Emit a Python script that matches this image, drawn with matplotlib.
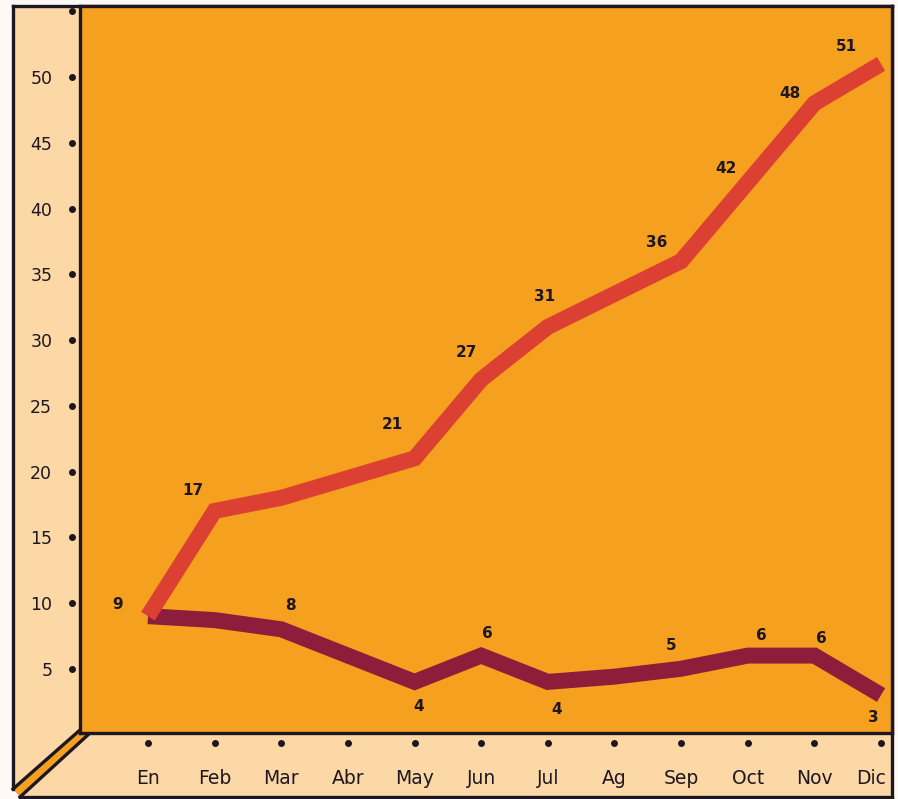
import matplotlib.pyplot as plt
from matplotlib.patches import Polygon
from matplotlib.transforms import blended_transform_factory, ScaledTranslation

meses = ['En', 'Feb', 'Mar', 'Abr', 'May', 'Jun', 'Jul', 'Ag', 'Sep', 'Oct', 'Nov', 'Dic']
serie_alta = [9, 17, 18, 19.5, 21, 27, 31, 33.5, 36, 42, 48, 51]
serie_baja = [9, 8.7, 8, 6, 4, 6, 4, 4.4, 5, 6, 6, 3]
ticks_y = [5, 10, 15, 20, 25, 30, 35, 40, 45, 50]

# which points carry a value label, and where the label sits (offset in px)
etiquetas_alta = {0: (-30, 12), 1: (-22, 20), 4: (-22, 34), 5: (-15, 27), 6: (-3, 30),
                  8: (-24, 19), 9: (-22, 14), 10: (-24, 10), 11: (-35, 17)}
etiquetas_baja = {2: (9, 24), 4: (4, -25), 5: (6, 22), 6: (9, -28),
                  8: (-10, 23), 9: (14, 20), 10: (7, 17), 11: (-8, -22)}

naranja = '#f5a01f'
beige = '#fcd8a6'
rojo = '#dc4032'
granate = '#8c1e3b'
tinta = '#1e1620'

W, H = 898, 799
fig = plt.figure(figsize=(W / 100, H / 100), dpi=100)
fig.patch.set_facecolor('#fdfaf5')

# background box (left wall, floor and bevel), drawn in pixel units
bg = fig.add_axes([0, 0, 1, 1])
bg.set_xlim(0, W)
bg.set_ylim(H, 0)
bg.axis('off')
bg.add_patch(Polygon([(13, 6), (80, 6), (80, 730), (13, 789)], closed=True,
                     facecolor=beige, edgecolor='none'))
bg.add_patch(Polygon([(90, 733), (892, 733), (892, 797), (20, 797)], closed=True,
                     facecolor=beige, edgecolor='none'))
bg.add_patch(Polygon([(80, 730), (90, 733), (20, 797), (13, 789)], closed=True,
                     facecolor=naranja, edgecolor='none'))
lw_box = 2.4
for xs, ys in [([13, 13], [6, 789]), ([13, 892], [6, 6]), ([892, 892], [6, 797]),
               ([20, 892], [797, 797]), ([80, 13], [730, 789]), ([90, 20], [733, 797])]:
    bg.plot(xs, ys, color=tinta, lw=lw_box, solid_capstyle='projecting')

ax = fig.add_axes([80 / W, 1 - 733 / H, (892 - 80) / W, (733 - 6) / H])
ax.set_facecolor(naranja)
for s in ax.spines.values():
    s.set_color(tinta)
    s.set_linewidth(lw_box)

x = list(range(len(meses)))
ax.plot(x, serie_baja, color=granate, lw=11.5, solid_capstyle='butt', solid_joinstyle='miter')
ax.plot(x, serie_alta, color=rojo, lw=11.5, solid_capstyle='butt', solid_joinstyle='miter')

ax.set_xlim(-1.02, 11.164)
ax.set_ylim(0.114, 55.4)

ax.set_yticks(ticks_y)
ax.set_yticklabels([str(t) for t in ticks_y], fontsize=12.5, color=tinta)
ax.set_xticks(x)
ax.set_xticklabels(meses, fontsize=13.5, color=tinta)
ax.tick_params(axis='y', length=0, pad=20)
ax.tick_params(axis='x', length=0, pad=26)
# last month label sits a little inside the right edge
ultimo = ax.get_xticklabels()[-1]
ultimo.set_transform(ultimo.get_transform() + ScaledTranslation(-7 / 72, 0, fig.dpi_scale_trans))

# tick dots on the wall and on the floor
tr_y = blended_transform_factory(ax.transAxes, ax.transData)
ax.scatter([-8 / 812] * (len(ticks_y) + 1), ticks_y + [55], s=16, color=tinta,
           transform=tr_y, clip_on=False, zorder=5)
tr_x = blended_transform_factory(ax.transData, ax.transAxes)
ax.scatter(x, [-10 / 727] * len(x), s=16, color=tinta,
           transform=tr_x, clip_on=False, zorder=5)

for serie, etiquetas in [(serie_alta, etiquetas_alta), (serie_baja, etiquetas_baja)]:
    for i, (dx, dy) in etiquetas.items():
        ax.annotate(f'{serie[i]:g}', (i, serie[i]), xytext=(dx * 0.72, dy * 0.72),
                    textcoords='offset points', ha='center', va='center',
                    fontsize=11, fontweight='bold', color=tinta)

fig.savefig('out.png', dpi=100, facecolor=fig.get_facecolor())
